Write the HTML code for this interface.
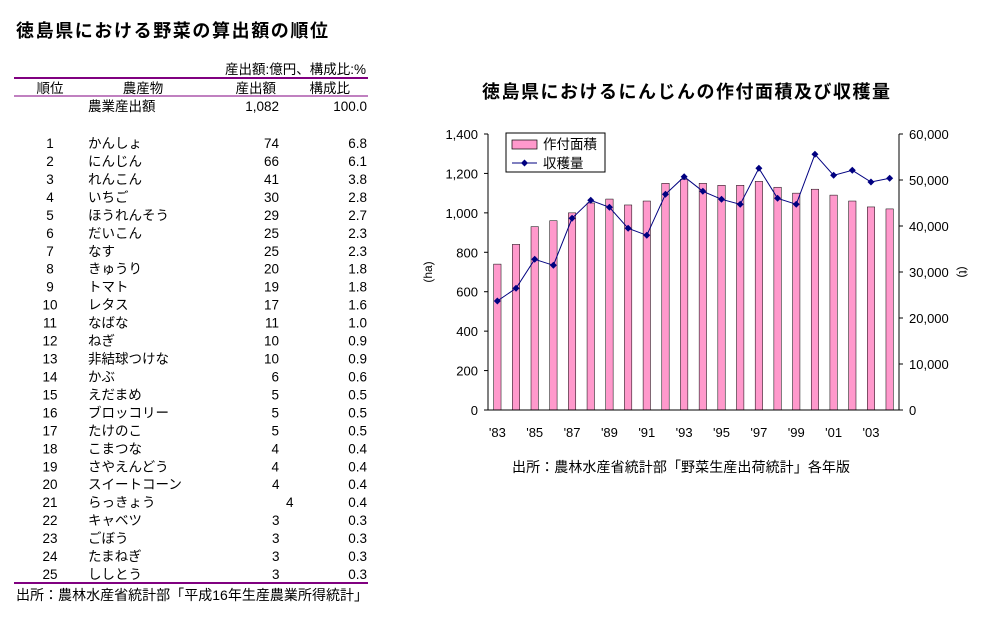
<!DOCTYPE html>
<html><head><meta charset="utf-8"><style>
html,body{margin:0;padding:0;background:#fff;}
svg{display:block;font-family:"Liberation Sans","Noto Sans CJK JP",sans-serif;}
</style></head><body>
<svg width="993" height="620" viewBox="0 0 993 620" xmlns="http://www.w3.org/2000/svg">
<text x="16" y="37" font-size="18" font-weight="bold" fill="#000" textLength="312">徳島県における野菜の算出額の順位</text>
<text x="366" y="74" font-size="13.5" text-anchor="end">産出額:億円、構成比:%</text>
<line x1="14" y1="78" x2="368" y2="78" stroke="#800080" stroke-width="2"/>
<g font-size="13.5">
<text x="50" y="93" text-anchor="middle">順位</text>
<text x="143" y="93" text-anchor="middle">農産物</text>
<text x="276" y="93" text-anchor="end">産出額</text>
<text x="350" y="93" text-anchor="end">構成比</text>
</g>
<line x1="14" y1="96" x2="368" y2="96" stroke="#800080" stroke-width="1"/>
<g font-size="13.5">
<text x="88" y="111">農業産出額</text>
<text x="279" y="111" text-anchor="end">1,082</text>
<text x="367" y="111" text-anchor="end">100.0</text>
</g>
<g font-size="13.5" id="rows"></g>
<line x1="14" y1="583" x2="368" y2="583" stroke="#800080" stroke-width="2"/>
<text x="16" y="600" font-size="14" textLength="352">出所：農林水産省統計部「平成16年生産農業所得統計」</text>

<text x="482" y="98" font-size="18" font-weight="bold" textLength="408">徳島県におけるにんじんの作付面積及び収穫量</text>
<g id="chart"></g>
<text x="512" y="472" font-size="14" textLength="338">出所：農林水産省統計部「野菜生産出荷統計」各年版</text>
</svg>
<script>
const NS="http://www.w3.org/2000/svg";
function el(p,t,a,txt){const e=document.createElementNS(NS,t);for(const k in a)e.setAttribute(k,a[k]);if(txt!==undefined)e.textContent=txt;p.appendChild(e);return e;}
const rows=[["かんしょ",74,"6.8"],["にんじん",66,"6.1"],["れんこん",41,"3.8"],["いちご",30,"2.8"],["ほうれんそう",29,"2.7"],["だいこん",25,"2.3"],["なす",25,"2.3"],["きゅうり",20,"1.8"],["トマト",19,"1.8"],["レタス",17,"1.6"],["なばな",11,"1.0"],["ねぎ",10,"0.9"],["非結球つけな",10,"0.9"],["かぶ",6,"0.6"],["えだまめ",5,"0.5"],["ブロッコリー",5,"0.5"],["たけのこ",5,"0.5"],["こまつな",4,"0.4"],["さやえんどう",4,"0.4"],["スイートコーン",4,"0.4"],["らっきょう",4,"0.4"],["キャベツ",3,"0.3"],["ごぼう",3,"0.3"],["たまねぎ",3,"0.3"],["ししとう",3,"0.3"]];
const g=document.getElementById("rows");
rows.forEach((r,i)=>{const y=148+i*17.96;
el(g,"text",{x:50,y:y,"text-anchor":"middle"},String(i+1));
el(g,"text",{x:88,y:y},r[0]);
if(i>=19){el(g,"text",{x:i==20?286:272,y:y},String(r[1]));}
else el(g,"text",{x:279,y:y,"text-anchor":"end"},String(r[1]));
el(g,"text",{x:367,y:y,"text-anchor":"end"},r[2]);});
const c=document.getElementById("chart");
const X0=488,X1=899,Y0=410,Y1=134,sw=(X1-X0)/22;
const bars=[740,840,930,960,1000,1050,1070,1040,1060,1150,1170,1150,1140,1140,1160,1130,1100,1120,1090,1060,1030,1020];
const ly=[301,288.3,259.3,265.3,218.3,200.3,207.3,228.3,235.3,194.3,176.7,191.3,199.3,204.3,168.3,198.3,204.3,154.3,175.3,170.3,182,178.3];
bars.forEach((v,i)=>{const cx=X0+sw*(i+0.5),h=v*(Y0-Y1)/1400;
el(c,"rect",{x:cx-3.7,y:Y0-h,width:7.4,height:h,fill:"#ff99cc",stroke:"#000","stroke-width":0.5});});
el(c,"line",{x1:X0,y1:Y1,x2:X0,y2:Y0,stroke:"#000"});
el(c,"line",{x1:X1,y1:Y1,x2:X1,y2:Y0,stroke:"#000"});
el(c,"line",{x1:X0,y1:Y0,x2:X1,y2:Y0,stroke:"#000"});
for(let k=0;k<=7;k++){const y=Y0-k*(Y0-Y1)/7;
el(c,"line",{x1:X0-4,y1:y,x2:X0,y2:y,stroke:"#000"});
el(c,"text",{x:X0-10,y:y+5,"font-size":13,"text-anchor":"end"},(k*200).toLocaleString("en-US"));}
for(let k=0;k<=6;k++){const y=Y0-k*(Y0-Y1)/6;
el(c,"line",{x1:X1,y1:y,x2:X1+4,y2:y,stroke:"#000"});
el(c,"text",{x:X1+10,y:y+5,"font-size":13},(k*10000).toLocaleString("en-US"));}
for(let i=0;i<22;i+=2){const cx=X0+sw*(i+0.5);
el(c,"text",{x:cx,y:437,"font-size":13,"text-anchor":"middle"},"'"+String((83+i)%100).padStart(2,"0"));}
el(c,"polyline",{points:ly.map((y,i)=>(X0+sw*(i+0.5))+","+y).join(" "),fill:"none",stroke:"#000080","stroke-width":1});
ly.forEach((y,i)=>{const cx=X0+sw*(i+0.5);el(c,"path",{d:`M${cx} ${y-3.5}L${cx+3.5} ${y}L${cx} ${y+3.5}L${cx-3.5} ${y}Z`,fill:"#000080"});});
el(c,"text",{transform:"translate(432,272) rotate(-90)","font-size":12,"text-anchor":"middle"},"(ha)");
el(c,"text",{transform:"translate(959,272) rotate(90)","font-size":12,"text-anchor":"middle"},"(t)");
el(c,"rect",{x:506,y:133,width:99,height:39,fill:"#fff",stroke:"#000"});
el(c,"rect",{x:512,y:140,width:25,height:9,fill:"#ff99cc",stroke:"#000","stroke-width":0.7});
el(c,"text",{x:543,y:149,"font-size":13.5},"作付面積");
el(c,"line",{x1:512,y1:163,x2:537,y2:163,stroke:"#000080"});
el(c,"path",{d:"M524.5 159.5L528 163L524.5 166.5L521 163Z",fill:"#000080"});
el(c,"text",{x:543,y:168,"font-size":13.5},"収穫量");
</script>
</body></html>
